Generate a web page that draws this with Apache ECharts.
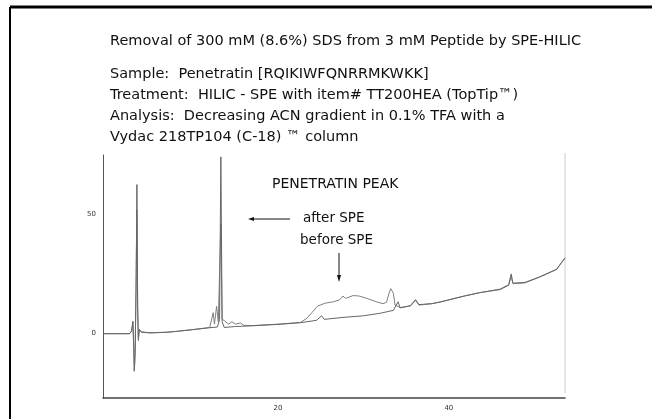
<!DOCTYPE html>
<html>
<head>
<meta charset="utf-8">
<script src="https://cdn.jsdelivr.net/npm/echarts@6/dist/echarts.min.js"></script>
<style>
  html, body { margin: 0; padding: 0; background: #fff; }
  #chart { width: 652px; height: 419px; }
</style>
</head>
<body>
<div id="chart"></div>
<script>
// retention time (min) and detector response
const afterX = [-0.5, 2.6, 2.85, 3.0, 3.1, 3.17, 3.27, 3.38, 3.47, 3.56, 3.64, 3.75, 4.0, 5, 7, 8.2, 10, 12.0, 12.9, 13.15, 13.3, 13.45, 13.7, 15, 17, 20, 22.6, 24.5, 25.1, 25.4, 27.5, 30, 32, 33.5, 34.05, 34.3, 35.5, 36.1, 36.5, 38, 39, 41.8, 42, 43.6, 46, 47, 47.3, 47.5, 48.9, 50.6, 52.6, 53.6];
const afterY = [0, 0, 1, 5, -5, -15.5, -6, 20, 62.6, 12, -2, 1.8, 0.8, 0.3, 0.6, 1, 1.7, 2.5, 2.8, 6, 74.2, 5, 2.6, 3, 3.3, 3.9, 4.6, 5.6, 7.5, 6.0, 6.8, 7.5, 8.6, 9.8, 13.4, 10.8, 11.8, 14.3, 12.2, 12.6, 13.3, 15.8, 16.2, 17.2, 18.7, 20.5, 25.1, 21.2, 21.5, 23.8, 27, 31.8];

const beforeX = [-0.5, 2.6, 2.85, 3.0, 3.1, 3.17, 3.27, 3.38, 3.47, 3.56, 3.64, 3.75, 4.0, 5, 7, 8.2, 10, 12.0, 12.4, 12.55, 12.8, 13.0, 13.3, 13.45, 13.7, 14.2, 14.6, 15, 15.6, 16, 17, 20, 22.6, 23.4, 24, 24.6, 25.5, 26.5, 27.2, 27.6, 27.9, 28.8, 29.5, 30.5, 31.5, 32.3, 32.7, 33.0, 33.2, 33.5, 33.7, 34.3, 35.5, 36.1, 36.5, 38, 39, 41.8, 42, 43.6, 46, 47, 47.3, 47.5, 48.9, 50.6, 52.6, 53.6];
const beforeY = [0, 0, 1.2, 5.2, -6, -15.8, -8, 25, 52, 10, -3, 1.7, 0.5, 0.4, 0.6, 1, 1.7, 2.6, 8.8, 4, 11.5, 5, 46, 6, 5.5, 4, 5, 4, 4.5, 3.5, 3.4, 4.0, 4.7, 6.5, 9, 11.5, 12.8, 13.4, 14.2, 15.8, 14.8, 16.0, 15.8, 14.7, 13.4, 12.6, 13.2, 17, 18.9, 17, 12, 11.0, 11.6, 14.0, 12.0, 12.6, 13.3, 15.8, 16.4, 17.2, 18.5, 20.3, 24, 21, 21.3, 23.7, 26.9, 31.8];

const xTicks = [20, 40];
const yTicks = [0, 50];

const infoLines = [
  'Sample:  Penetratin [RQIKIWFQNRRMKWKK]',
  'Treatment:  HILIC - SPE with item# TT200HEA (TopTip\u2122)',
  'Analysis:  Decreasing ACN gradient in 0.1% TFA with a',
  'Vydac 218TP104 (C-18) \u2122 column'
];

const font = '"DejaVu Sans", sans-serif';
const chart = echarts.init(document.getElementById('chart'));

const zip = (xs, ys) => xs.map((x, i) => [x, ys[i]]);

const textEls = infoLines.map((t, i) => ({
  type: 'text',
  left: 110,
  top: 67 + i * 21,
  style: { text: t, font: '14.5px ' + font, fill: '#111' }
}));

chart.setOption({
  backgroundColor: '#fff',
  animation: false,
  title: {
    text: 'Removal of 300 mM (8.6%) SDS from 3 mM Peptide by SPE-HILIC',
    left: 110,
    top: 34,
    padding: 0,
    textStyle: { fontFamily: font, fontSize: 14.5, fontWeight: 'normal', color: '#111' }
  },
  grid: { left: 103, right: 87, top: 155, bottom: 21 },
  xAxis: {
    type: 'value',
    min: -0.5,
    max: 53.6,
    axisLine: { onZero: false, lineStyle: { color: '#444', width: 1.5 } },
    axisTick: { show: false },
    splitLine: { show: false },
    axisLabel: { customValues: xTicks, fontSize: 7, color: '#333', margin: 7, fontFamily: font }
  },
  yAxis: {
    type: 'value',
    min: -27,
    max: 75,
    axisLine: { show: true, onZero: false, lineStyle: { color: '#555', width: 1 } },
    axisTick: { show: false },
    splitLine: { show: false },
    axisLabel: { customValues: yTicks, fontSize: 7, color: '#333', margin: 7, fontFamily: font }
  },
  series: [
    {
      name: 'after SPE',
      type: 'line',
      data: zip(afterX, afterY),
      showSymbol: false,
      lineStyle: { color: '#666', width: 1 },
      z: 3
    },
    {
      name: 'before SPE',
      type: 'line',
      data: zip(beforeX, beforeY),
      showSymbol: false,
      lineStyle: { color: '#808080', width: 1 },
      z: 2
    }
  ],
  graphic: [
    // page frame
    { type: 'line', shape: { x1: 10, y1: 7, x2: 652, y2: 7 }, style: { stroke: '#000', lineWidth: 3 } },
    { type: 'line', shape: { x1: 10, y1: 7, x2: 10, y2: 419 }, style: { stroke: '#000', lineWidth: 2 } },
    // faint right edge of plot
    { type: 'line', shape: { x1: 565, y1: 153, x2: 565, y2: 393 }, style: { stroke: '#ccc', lineWidth: 1 } },
    ...textEls,
    { type: 'text', left: 272, top: 177, style: { text: 'PENETRATIN PEAK', font: '14px ' + font, fill: '#111' } },
    { type: 'text', left: 303, top: 211, style: { text: 'after SPE', font: '13.5px ' + font, fill: '#111' } },
    { type: 'text', left: 300, top: 233, style: { text: 'before SPE', font: '13.5px ' + font, fill: '#111' } },
    // left arrow
    { type: 'line', shape: { x1: 290, y1: 219, x2: 252, y2: 219 }, style: { stroke: '#111', lineWidth: 1 } },
    { type: 'polygon', shape: { points: [[248, 219], [254, 217], [254, 221]] }, style: { fill: '#111' } },
    // down arrow
    { type: 'line', shape: { x1: 339, y1: 253, x2: 339, y2: 277 }, style: { stroke: '#111', lineWidth: 1 } },
    { type: 'polygon', shape: { points: [[339, 282], [337, 275], [341, 275]] }, style: { fill: '#111' } }
  ]
});
</script>
</body>
</html>
